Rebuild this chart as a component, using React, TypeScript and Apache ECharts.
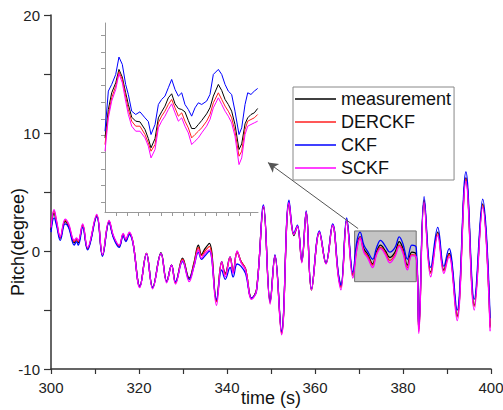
import React, { useEffect, useRef } from "react";
import * as echarts from "echarts";

// ---- main chart data (time in s, pitch in degree) ----
const times = [300.0,300.7,301.3,302.1,303.2,304.0,305.3,305.8,306.2,307.2,
  308.3,310.4,311.7,313.2,314.2,315.5,316.4,317.0,317.8,318.6,
  320.2,321.7,323.1,325.0,326.3,327.4,328.3,329.9,331.4,332.5,
  333.5,334.2,335.0,336.0,337.6,338.8,339.6,340.7,341.4,342.3,
  343.2,344.2,345.6,346.7,348.3,349.8,350.9,352.4,354.1,355.2,
  356.0,357.0,358.0,359.2,361.0,362.5,364.0,365.3,365.9,367.2,
  368.6,369.5,370.25,371.1,372.0,373.1,374.0,374.9,376.0,377.0,
  378.2,379.15,380.0,381.0,382.0,383.0,383.6,384.8,386.3,387.9,
  389.3,390.5,391.0,392.3,394.3,396.2,398.1,399.8];

const measurement = [1.8,3.2,2.3,1.1,2.5,2.1,0.7,1.0,0.7,2.2,
  0.2,3.0,-0.35,2.5,1.2,0.4,1.4,0.9,1.5,0.8,
  -3.0,-0.2,-3.1,-0.15,-2.6,-1.2,-2.7,-0.6,-2.3,-1.0,
  0.5,-0.3,0.2,0.65,-4.2,-0.9,-1.9,-0.5,-1.7,-0.1,
  -0.9,-1.5,-4.0,-3.3,3.7,-4.3,-0.4,-6.9,4.0,1.3,
  2.1,-0.9,3.3,-3.3,1.6,-1.05,2.2,-2.0,-3.0,2.6,
  -2.0,0.4,1.2,0.2,-0.3,-1.1,-0.05,0.5,0.0,-0.55,
  -0.1,0.8,0.2,-1.2,-0.1,-0.3,-6.6,4.3,-1.8,1.6,
  -1.6,-0.2,-0.8,-5.5,6.2,-4.6,4.0,-6.4];

const derckf = [1.9,3.4,2.4,1.1,2.6,2.2,0.8,1.0,0.8,2.2,
  0.2,3.0,-0.35,2.5,1.2,0.4,1.4,0.9,1.5,0.8,
  -3.0,-0.2,-3.1,-0.2,-2.6,-1.2,-2.7,-0.7,-2.4,-1.1,
  0.3,-0.4,0.0,0.4,-4.3,-1.0,-2.0,-0.6,-1.8,-0.05,
  -0.9,-1.5,-4.0,-3.3,3.8,-4.4,-0.4,-7.0,4.1,1.4,
  2.1,-0.9,3.3,-3.3,1.6,-1.05,2.2,-2.1,-3.1,2.6,
  -2.1,0.2,1.15,0.0,-0.45,-1.2,-0.2,0.3,-0.15,-0.8,
  -0.3,0.5,0.0,-1.4,-0.3,-0.4,-6.8,4.3,-1.9,1.5,
  -1.7,-0.3,-0.9,-5.6,6.1,-4.7,3.9,-6.5];

const ckf = [1.6,2.8,2.1,0.9,2.3,2.0,0.5,0.8,0.5,2.0,
  0.1,2.9,-0.45,2.4,1.1,0.3,1.3,0.8,1.4,0.7,
  -3.0,-0.25,-3.1,-0.2,-2.6,-1.2,-2.6,-0.9,-2.4,-1.3,
  -0.1,-0.7,-0.4,0.0,-4.1,-1.6,-2.4,-1.4,-2.2,-1.1,
  -1.3,-1.9,-4.0,-3.4,3.9,-4.3,-0.3,-6.8,4.3,1.5,
  2.2,-0.8,3.4,-3.2,1.7,-1.0,2.3,-1.9,-2.9,2.8,
  -1.8,0.8,1.6,0.5,-0.05,-0.7,0.3,0.9,0.4,-0.1,
  0.3,1.2,0.6,-0.7,0.5,0.3,-6.4,4.6,-1.4,2.0,
  -1.3,0.2,-0.5,-5.0,6.7,-4.1,4.4,-5.7];

const sckf = [2.0,3.5,2.5,1.2,2.7,2.3,0.9,1.1,0.9,2.3,
  0.3,3.1,-0.3,2.6,1.3,0.5,1.5,1.0,1.6,0.8,
  -3.1,-0.2,-3.2,-0.2,-2.7,-1.2,-2.8,-0.8,-2.6,-1.3,
  0.1,-0.6,-0.2,0.1,-4.6,-0.9,-2.2,-0.5,-1.9,0.0,
  -1.0,-1.6,-4.1,-3.4,3.8,-4.5,-0.4,-7.1,4.1,1.4,
  2.1,-1.0,3.3,-3.3,1.6,-1.1,2.2,-2.2,-3.3,2.6,
  -2.3,0.1,1.1,-0.1,-0.6,-1.4,-0.3,0.2,-0.3,-1.0,
  -0.45,0.4,-0.2,-1.6,-0.4,-0.5,-7.0,4.1,-2.2,1.3,
  -1.9,-0.5,-1.1,-5.9,5.9,-5.0,3.7,-6.8];

// ---- inset (zoom of 369–383 s) ----
const insetTimes = [369.00,369.30,369.60,369.96,370.25,370.55,370.85,371.09,371.39,371.75,
  372.13,372.58,372.88,373.12,373.48,373.78,374.07,374.37,374.67,374.97,
  375.27,375.57,375.87,376.16,376.46,376.76,377.06,377.36,377.66,378.10,
  378.40,378.70,379.15,379.45,379.75,380.04,380.34,380.64,381.00,381.24,
  381.54,381.78,382.07,382.37,382.67];

const insetMeasurement = [-0.82,0.03,0.53,0.83,1.23,1.00,0.53,0.18,-0.20,-0.32,
  -0.34,-0.57,-0.84,-1.12,-0.84,-0.22,-0.04,0.13,0.38,0.50,
  0.20,0.06,0.03,-0.04,-0.30,-0.54,-0.54,-0.42,-0.30,-0.10,
  0.08,0.43,0.78,0.60,0.33,0.18,-0.02,-0.42,-1.17,-1.00,
  -0.40,-0.22,-0.12,-0.07,0.06];

const insetCkf = [-0.62,0.58,0.78,1.08,1.60,1.38,0.78,0.48,-0.02,-0.12,
  -0.04,-0.22,-0.33,-0.72,-0.42,0.18,0.33,0.43,0.68,0.93,
  0.63,0.43,0.53,0.18,0.03,-0.17,0.08,0.23,0.18,0.28,
  0.48,1.08,1.23,1.08,0.78,0.58,0.48,-0.02,-0.72,-0.52,
  0.18,0.53,0.48,0.58,0.66];

const insetDerckf = [-1.02,-0.12,0.38,0.73,1.16,0.93,0.43,0.03,-0.32,-0.47,
  -0.47,-0.72,-0.97,-1.22,-1.02,-0.37,-0.17,-0.02,0.18,0.33,
  0.08,-0.17,-0.07,-0.32,-0.52,-0.82,-0.72,-0.62,-0.52,-0.32,
  -0.12,0.23,0.53,0.33,0.13,-0.02,-0.22,-0.62,-1.37,-1.22,
  -0.57,-0.32,-0.27,-0.22,-0.12];

const insetSckf = [-1.22,-0.22,0.28,0.63,1.10,0.83,0.28,-0.12,-0.47,-0.62,
  -0.62,-0.82,-1.07,-1.42,-1.17,-0.52,-0.32,-0.17,0.03,0.20,
  -0.07,-0.32,-0.22,-0.47,-0.67,-1.02,-0.92,-0.82,-0.67,-0.47,
  -0.27,0.08,0.38,0.18,-0.02,-0.17,-0.37,-0.77,-1.62,-1.42,
  -0.72,-0.47,-0.42,-0.37,-0.32];

const insetXTicks = [370,371,372,373,374,375,376,377,378,379,380,381,382];
const insetYTicks = [-2.75,-2.25,-1.75,-1.25,-0.75,-0.25,0.25,0.75,1.25,1.75,2.25];

// zoom box and arrow (data coordinates)
const zoomBoxX = [369, 383];
const zoomBoxY = [-2.6, 1.7];
const arrowFrom = [369.8, 1.9];
const arrowTo = [349.3, 7.5];

const seriesNames = ["measurement", "DERCKF", "CKF", "SCKF"];
const colors = ["#000000", "#ff2020", "#0000ff", "#ff00ff"];

const FONT = "Liberation Sans, Arial, Helvetica, sans-serif";

function pairs(xs: number[], ys: number[]) {
  const n = Math.min(xs.length, ys.length);
  const out: number[][] = [];
  for (let i = 0; i < n; i++) out.push([xs[i], ys[i]]);
  return out;
}

export default function App() {
  const ref = useRef<HTMLDivElement>(null);
  useEffect(() => {
    document.body.style.margin = "0";
    const chart = echarts.init(ref.current!, null, { renderer: "svg" });
    const mainData = [measurement, derckf, ckf, sckf];
    const insetData = [insetMeasurement, insetDerckf, insetCkf, insetSckf];

    const mainSeries: any[] = mainData.map((ys, i) => ({
      name: seriesNames[i],
      type: "line",
      xAxisIndex: 0,
      yAxisIndex: 0,
      data: pairs(times, ys),
      symbol: "none",
      smooth: 0.4,
      lineStyle: { color: colors[i], width: 1.3 },
      itemStyle: { color: colors[i] },
      z: 3,
    }));
    mainSeries[0].markArea = {
      silent: true,
      z: 1,
      itemStyle: { color: "#c4c4c4", borderColor: "#707070", borderWidth: 1 },
      data: [[{ coord: [zoomBoxX[0], zoomBoxY[1]] }, { coord: [zoomBoxX[1], zoomBoxY[0]] }]],
    };
    mainSeries[0].markLine = {
      silent: true,
      symbol: ["none", "arrow"],
      symbolSize: [8, 10],
      lineStyle: { color: "#555", width: 1, type: "solid" },
      label: { show: false },
      data: [[{ coord: arrowFrom }, { coord: arrowTo }]],
    };

    const insetSeries = insetData.map((ys, i) => ({
      name: seriesNames[i],
      type: "line",
      xAxisIndex: 1,
      yAxisIndex: 1,
      data: pairs(insetTimes, ys),
      symbol: "none",
      lineStyle: { color: colors[i], width: 1 },
      itemStyle: { color: colors[i] },
      z: 3,
    }));

    const axisLineMain = { show: true, onZero: false, lineStyle: { color: "#333", width: 1.5 } };
    const axisLineInset = { show: true, onZero: false, lineStyle: { color: "#999", width: 1 } };

    chart.setOption({
      animation: false,
      backgroundColor: "#ffffff",
      grid: [
        { left: 51, right: 12, top: 15, bottom: 41, containLabel: false, outerBoundsMode: "none" },
        { left: 105, top: 23, width: 153, height: 189, containLabel: false, outerBoundsMode: "none" },
      ],
      legend: {
        show: true,
        orient: "vertical",
        left: 293,
        top: 87,
        padding: [2, 3, 2, 2],
        icon: "rect",
        itemWidth: 41,
        itemHeight: 1.5,
        itemGap: 3,
        borderColor: "#888",
        borderWidth: 1,
        backgroundColor: "#ffffff",
        data: seriesNames,
        textStyle: { fontFamily: FONT, fontSize: 18, color: "#111", lineHeight: 20 },
      },
      xAxis: [
        {
          type: "value",
          gridIndex: 0,
          min: 300,
          max: 400,
          interval: 10,
          axisLine: axisLineMain,
          axisTick: { show: true, inside: false, length: 5, lineStyle: { color: "#333", width: 1.2 } },
          axisLabel: {
            fontFamily: FONT,
            fontSize: 15,
            color: "#222",
            margin: 11,
            formatter: (v: number) => (v % 20 === 0 ? String(v) : ""),
          },
          splitLine: { show: false },
        },
        {
          type: "value",
          gridIndex: 1,
          min: 369,
          max: 382.7,
          axisLine: axisLineInset,
          axisTick: { show: true, inside: false, length: 4, customValues: insetXTicks, lineStyle: { color: "#999" } },
          axisLabel: { show: false },
          splitLine: { show: false },
        },
      ],
      yAxis: [
        {
          type: "value",
          gridIndex: 0,
          min: -10,
          max: 20,
          interval: 5,
          axisLine: axisLineMain,
          axisTick: { show: true, inside: false, length: 7, lineStyle: { color: "#333", width: 1.2 } },
          axisLabel: {
            fontFamily: FONT,
            fontSize: 15,
            color: "#222",
            margin: 11,
            formatter: (v: number) => (v % 10 === 0 ? String(v) : ""),
          },
          splitLine: { show: false },
        },
        {
          type: "value",
          gridIndex: 1,
          min: -3.04,
          max: 2.62,
          axisLine: axisLineInset,
          axisTick: { show: true, inside: false, length: 4, customValues: insetYTicks, lineStyle: { color: "#999" } },
          axisLabel: { show: false },
          splitLine: { show: false },
        },
      ],
      graphic: [
        {
          type: "text",
          x: 18,
          y: 242,
          rotation: Math.PI / 2,
          style: {
            text: "Pitch(degree)",
            font: `18px ${FONT}`,
            fill: "#111",
            align: "center",
            verticalAlign: "middle",
          },
        },
        {
          type: "text",
          x: 271,
          y: 398,
          style: {
            text: "time (s)",
            font: `18px ${FONT}`,
            fill: "#111",
            align: "center",
            verticalAlign: "middle",
          },
        },
      ],
      series: [...mainSeries, ...insetSeries],
    });
    return () => chart.dispose();
  }, []);
  return <div ref={ref} style={{ width: 503, height: 410 }} />;
}
